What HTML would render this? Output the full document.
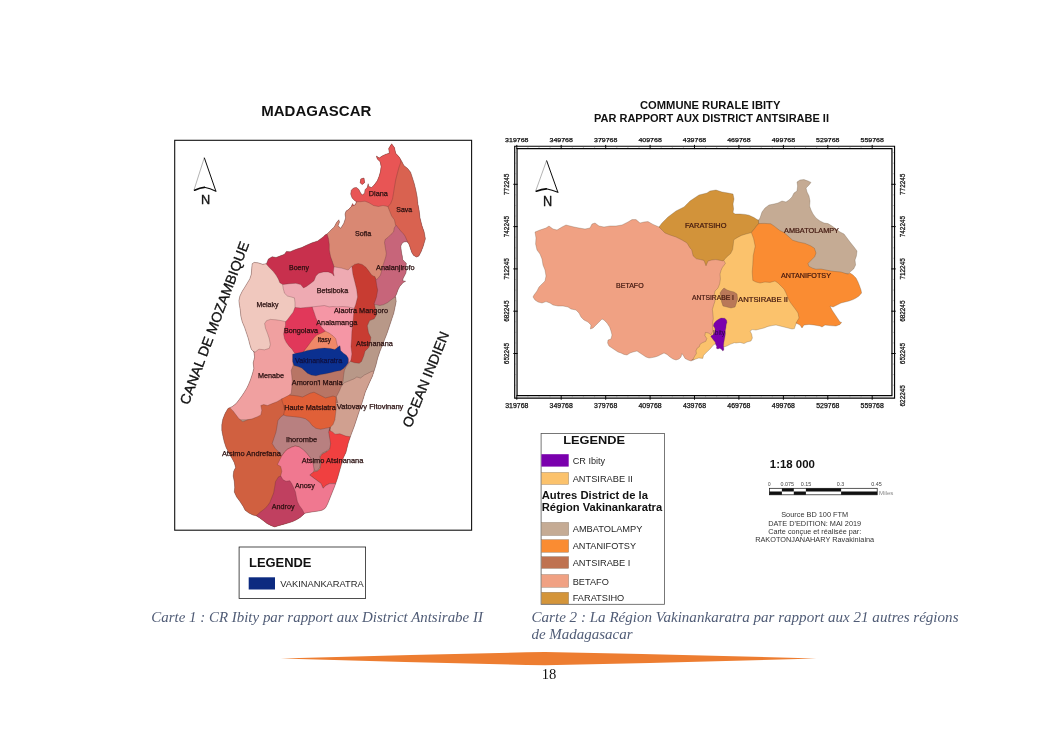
<!DOCTYPE html>
<html lang="fr"><head><meta charset="utf-8"><title>Cartes</title>
<style>
html,body{margin:0;padding:0;background:#fff;}
body{width:1053px;height:745px;overflow:hidden;position:relative;font-family:"Liberation Sans",sans-serif;}
svg{position:absolute;left:0;top:0;display:block}
svg text{font-family:"Liberation Sans",sans-serif;}
.ser{font-family:"Liberation Serif",serif !important;}
</style></head><body>
<svg width="1053" height="745" viewBox="0 0 1053 745">
<rect x="0" y="0" width="1053" height="745" fill="#ffffff"/>
<defs><clipPath id="coast"><polygon points="391.6,143.8 394.4,147.6 395.7,153.3 399.2,157.1 402.0,161.8 403.9,165.6 407.7,168.5 410.6,172.3 412.5,178.0 414.3,183.7 415.9,190.3 417.2,197.0 417.8,203.6 419.1,210.3 420.0,217.9 421.9,225.5 424.2,232.1 425.4,238.8 425.0,240.2 423.2,246.3 421.4,251.1 418.9,255.9 416.5,257.1 413.5,255.3 411.7,252.3 410.5,248.7 409.3,245.0 408.1,242.6 406.3,241.7 403.8,242.0 401.7,243.8 400.8,246.3 401.2,249.9 401.7,253.5 402.4,256.5 402.6,259.5 404.4,261.4 406.3,263.2 406.0,266.2 406.3,269.2 406.0,272.8 404.4,275.9 403.2,278.3 402.6,280.7 405.6,281.3 403.2,282.5 399.7,286.5 397.8,290.3 396.5,294.1 395.0,297.0 395.6,296.9 396.2,301.5 395.0,307.3 393.8,313.1 391.5,320.0 389.2,326.9 386.9,333.8 384.6,339.6 382.3,345.4 380.0,351.2 377.7,358.1 376.0,365.0 374.2,370.8 372.5,376.0 369.5,382.5 365.3,392.1 361.6,404.2 358.0,415.0 354.4,425.9 350.8,435.6 348.3,442.8 345.9,452.5 343.3,457.9 341.4,464.6 339.5,471.2 337.6,477.9 335.7,483.6 335.0,485.5 333.5,489.3 331.6,494.0 329.7,498.8 327.8,503.5 326.2,506.7 324.9,508.6 322.1,510.2 318.3,511.1 313.5,511.7 308.8,512.4 305.0,513.2 303.1,514.9 300.2,517.4 296.4,519.7 292.6,521.6 287.9,523.1 283.1,524.4 278.4,525.7 274.6,526.9 270.8,525.4 267.0,523.5 263.2,520.6 259.4,517.8 256.5,515.9 252.7,514.9 248.9,513.0 245.1,510.2 243.2,506.4 240.0,501.6 236.6,496.9 234.3,492.1 234.7,487.4 234.3,481.7 233.2,476.0 233.7,471.2 235.6,467.4 234.3,462.7 231.8,457.9 229.0,453.2 226.1,447.5 224.2,441.8 222.9,436.1 221.8,430.4 221.8,424.7 222.9,419.0 225.2,413.3 228.0,408.5 232.3,406.5 236.1,403.6 239.0,399.8 241.8,396.0 244.3,392.2 246.6,388.4 248.5,384.6 250.4,379.9 252.3,374.2 253.8,368.5 253.2,362.8 254.6,357.1 253.8,351.4 254.1,352.1 251.3,349.2 249.8,344.5 248.4,338.8 246.5,333.1 244.6,327.4 242.2,321.7 240.8,316.0 240.3,310.3 239.5,305.5 238.9,300.8 239.9,296.0 242.2,291.3 244.6,287.5 247.5,282.7 249.8,278.9 251.3,274.2 251.7,268.5 252.2,263.7 254.1,262.4 257.9,262.8 262.7,264.3 266.5,263.7 268.4,259.0 272.2,256.7 276.0,257.5 279.8,256.1 284.5,254.2 286.4,251.4 290.2,251.8 293.1,250.4 296.9,249.1 301.6,247.6 306.4,245.3 312.1,242.8 317.8,240.9 323.2,236.9 325.1,235.0 327.0,234.0 329.8,231.2 331.7,229.3 334.2,227.0 336.5,222.6 338.8,219.8 339.5,222.1 338.0,225.8 340.7,228.3 343.7,223.6 345.6,217.9 345.0,214.1 346.0,211.2 348.8,209.3 351.3,206.5 352.6,203.6 353.6,205.5 355.5,204.6 356.4,201.7 354.5,200.4 352.1,197.9 350.7,194.1 351.3,190.3 353.6,187.9 356.4,187.5 358.9,189.4 360.2,192.2 362.1,195.1 364.6,193.2 365.0,189.8 367.2,187.5 368.2,183.7 368.8,186.5 371.6,187.5 374.5,184.6 377.3,180.8 379.2,176.1 380.5,171.3 381.1,166.6 380.2,161.8 377.3,159.0 376.4,156.1 379.2,158.0 382.1,156.1 385.9,154.2 389.3,153.3 388.7,148.5"/><polygon points="360.8,178.9 364.0,178.0 364.6,182.7 362.1,184.6 360.2,182.7"/></clipPath></defs>
<g clip-path="url(#coast)">
<rect x="190" y="140" width="260" height="390" fill="#B89888"/>
<polygon points="330.0,290.0 430.0,290.0 430.0,400.0 330.0,400.0" fill="#B89888" stroke="rgba(70,40,40,0.55)" stroke-width="0.45" stroke-linejoin="round"/>
<polygon points="344.4,382.7 349.2,380.8 353.9,378.9 356.8,377.0 360.6,378.0 364.3,375.1 368.1,373.2 371.9,371.3 390.9,371.3 390.9,454.0 326.4,454.0 326.4,397.0 341.6,385.6" fill="#D0A090" stroke="rgba(70,40,40,0.55)" stroke-width="0.45" stroke-linejoin="round"/>
<polygon points="370.3,304.6 373.1,305.0 376.0,304.6 379.8,305.5 383.6,304.6 387.4,302.7 391.2,299.8 395.0,297.0 423.5,297.0 423.5,202.0 357.0,202.0 357.0,305.5" fill="#C7657A" stroke="rgba(70,40,40,0.55)" stroke-width="0.45" stroke-linejoin="round"/>
<polygon points="396.0,225.1 398.4,228.1 400.8,231.1 403.2,233.6 405.0,236.0 406.3,239.0 407.5,241.7 405.5,245.0 406.0,252.0 410.0,258.0 414.0,262.0 440.0,262.0 440.9,140.0 374.5,140.0 374.5,225.5" fill="#D96250" stroke="rgba(70,40,40,0.55)" stroke-width="0.45" stroke-linejoin="round"/>
<polygon points="400.7,162.4 398.8,167.9 396.9,175.1 395.7,179.9 394.4,187.5 393.5,193.2 392.5,198.9 390.6,203.6 387.8,206.9 387.8,216.0 346.0,216.0 346.0,134.3 403.0,134.3" fill="#E85555" stroke="rgba(70,40,40,0.55)" stroke-width="0.45" stroke-linejoin="round"/>
<polygon points="356.4,201.7 360.2,201.7 365.0,201.2 368.8,202.7 373.5,205.5 378.3,206.5 383.0,205.5 387.8,206.5 389.7,211.2 391.6,216.0 394.4,219.8 395.4,224.5 396.0,225.1 394.2,228.1 393.6,231.8 391.1,234.2 388.1,237.2 385.1,239.6 384.5,242.6 385.1,246.3 385.7,249.9 386.3,253.5 385.7,257.1 384.5,260.8 383.3,264.4 382.1,268.0 381.5,271.6 380.3,275.3 378.5,277.7 376.6,279.5 374.1,277.0 374.1,289.4 317.5,284.3 317.5,216.0 353.6,205.5" fill="#D98873" stroke="rgba(70,40,40,0.55)" stroke-width="0.45" stroke-linejoin="round"/>
<polygon points="333.9,266.8 341.5,268.1 348.1,270.0 351.6,266.2 363.3,266.6 363.3,319.8 276.0,319.8 276.0,259.0 331.1,259.0" fill="#EEAAB2" stroke="rgba(70,40,40,0.55)" stroke-width="0.45" stroke-linejoin="round"/>
<polygon points="327.0,234.0 328.5,238.8 329.3,244.5 329.3,250.0 330.6,256.6 332.5,262.1 334.0,266.7 333.3,272.1 334.1,276.1 332.0,273.4 328.2,271.9 323.5,271.9 318.7,273.2 315.9,276.1 314.0,280.8 310.2,283.7 306.4,286.5 303.5,287.9 300.7,284.6 295.9,283.3 289.3,283.7 282.6,284.6 272.2,284.6 262.7,268.5 262.7,251.4 262.7,221.0" fill="#C8304D" stroke="rgba(70,40,40,0.55)" stroke-width="0.45" stroke-linejoin="round"/>
<polygon points="266.5,264.3 269.3,267.5 273.1,271.3 276.0,275.1 278.3,278.9 279.8,282.7 282.6,284.6 283.2,288.4 284.5,293.2 287.4,296.0 291.2,297.0 294.4,297.9 295.0,302.7 295.0,307.4 295.0,323.6 289.3,354.0 238.0,354.0 228.5,297.0 247.5,259.0 266.5,259.0" fill="#F0C8BE" stroke="rgba(70,40,40,0.55)" stroke-width="0.45" stroke-linejoin="round"/>
<polygon points="285.5,321.7 281.7,320.7 276.0,319.8 270.3,319.4 266.5,320.7 264.6,323.6 265.5,328.3 267.4,333.1 269.3,338.8 270.3,344.5 269.3,348.3 264.6,349.8 258.9,349.2 255.1,352.1 238.0,352.1 210.5,359.0 210.5,419.8 299.8,419.8 299.8,351.4 298.8,346.4 298.8,321.7" fill="#F0A0A0" stroke="rgba(70,40,40,0.55)" stroke-width="0.45" stroke-linejoin="round"/>
<polygon points="312.1,306.9 315.9,306.5 319.7,306.1 324.4,305.5 329.2,306.9 333.0,306.5 336.8,306.9 342.5,306.5 348.1,306.9 354.2,308.4 357.6,308.4 357.6,354.0 350.0,361.6 344.3,369.2 312.1,369.2" fill="#F596A5" stroke="rgba(70,40,40,0.55)" stroke-width="0.45" stroke-linejoin="round"/>
<polygon points="351.7,266.9 354.5,264.4 358.3,263.5 362.1,264.4 365.9,267.3 368.8,271.1 371.6,274.9 374.1,276.4 375.0,276.5 376.0,280.8 376.9,286.5 377.7,290.0 376.5,296.9 374.2,303.8 375.4,308.5 376.5,314.8 374.2,318.8 369.6,320.6 367.3,325.8 368.5,332.7 370.8,337.3 370.2,343.1 368.5,347.7 365.0,351.2 363.8,355.8 361.5,361.5 359.2,363.3 354.6,362.7 350.6,361.5 351.0,359.7 351.9,354.0 351.0,346.4 351.6,338.8 351.9,331.2 352.9,323.6 353.5,316.0 354.2,308.4 355.7,304.6 357.6,297.0 356.7,289.4 354.8,281.8 352.9,274.2 351.9,266.6" fill="#C83C32" stroke="rgba(70,40,40,0.55)" stroke-width="0.45" stroke-linejoin="round"/>
<polygon points="295.0,307.4 300.7,308.0 306.4,307.4 312.1,306.9 314.0,312.2 315.9,317.9 318.7,323.6 322.5,328.3 325.4,331.2 321.6,338.8 314.0,354.0 303.5,357.8 294.0,352.4 292.1,349.2 289.3,346.4 286.4,342.6 284.5,338.8 283.6,334.0 284.5,329.3 285.5,325.5 285.5,321.7 287.4,319.8 290.2,316.0 293.1,312.2" fill="#E1385A" stroke="rgba(70,40,40,0.55)" stroke-width="0.45" stroke-linejoin="round"/>
<polygon points="325.4,331.2 329.2,333.1 333.0,335.9 335.8,338.8 336.8,343.5 337.7,346.4 337.7,354.0 303.5,357.8 303.5,351.7 305.4,349.2 308.3,345.4 311.1,341.6 314.0,337.8 316.8,335.0 321.6,333.1" fill="#F08868" stroke="rgba(70,40,40,0.55)" stroke-width="0.45" stroke-linejoin="round"/>
<polygon points="293.1,365.6 291.2,370.4 291.8,376.1 292.2,381.8 291.8,387.5 291.2,393.2 289.3,395.1 289.3,402.7 337.8,402.7 336.2,397.0 337.8,394.1 339.7,390.3 341.6,385.6 343.1,380.8 343.5,376.1 344.4,370.4 346.3,365.6 348.2,362.8 348.2,359.0 293.1,359.0" fill="#B87565" stroke="rgba(70,40,40,0.55)" stroke-width="0.45" stroke-linejoin="round"/>
<polygon points="292.6,354.2 296.0,353.3 301.7,352.3 307.4,350.4 313.1,349.5 318.8,348.5 324.5,348.0 330.2,348.5 334.9,349.5 338.7,346.6 340.0,345.7 340.6,350.4 343.5,353.3 346.3,355.2 348.2,358.0 348.2,362.8 346.3,365.6 343.5,368.5 340.6,370.4 335.9,371.3 330.2,372.7 325.4,373.8 320.7,374.6 315.9,375.7 311.2,375.1 307.4,373.2 304.5,370.4 301.7,368.1 297.9,366.6 294.1,365.6 292.7,361.8 292.6,358.0" fill="#0B3090" stroke="rgba(70,40,40,0.55)" stroke-width="0.45" stroke-linejoin="round"/>
<polygon points="229.5,407.4 233.3,411.2 236.1,415.0 239.0,418.8 242.8,421.7 247.5,419.8 252.3,418.8 257.0,416.9 260.8,415.0 261.8,410.3 260.8,405.5 263.7,404.6 267.5,405.5 272.2,403.6 277.0,401.7 281.7,398.9 299.8,398.9 299.3,400.0 299.3,536.8 200.5,536.8 200.5,405.7" fill="#D06040" stroke="rgba(70,40,40,0.55)" stroke-width="0.45" stroke-linejoin="round"/>
<polygon points="289.3,395.1 294.1,395.5 297.9,396.0 302.6,397.0 306.4,395.1 310.2,393.2 314.0,392.2 317.8,394.1 321.6,396.0 325.4,397.9 329.2,397.0 333.0,396.0 336.2,397.0 335.9,402.7 336.2,408.4 335.5,414.1 334.9,419.8 333.0,424.5 330.2,427.4 330.2,435.0 283.6,435.0 283.6,415.0 284.6,410.3 283.6,405.5 282.3,401.7 281.7,398.9 285.5,397.0" fill="#E06038" stroke="rgba(70,40,40,0.55)" stroke-width="0.45" stroke-linejoin="round"/>
<polygon points="283.6,415.0 286.5,416.0 291.2,416.4 296.0,416.9 300.7,417.5 305.5,418.8 309.3,421.7 312.1,425.5 315.9,428.3 320.7,429.3 325.4,428.3 330.2,427.4 329.2,431.2 330.2,436.9 331.1,442.6 330.2,448.3 326.4,451.1 322.6,453.0 319.7,455.9 320.7,461.6 319.7,467.3 316.9,471.1 314.0,470.1 313.1,463.5 310.2,457.8 306.4,453.0 302.6,449.2 298.8,446.7 295.0,446.0 291.2,447.3 287.4,449.2 284.6,452.1 281.7,455.9 278.9,452.1 275.1,448.3 272.2,443.5 274.1,437.8 276.0,432.1 277.0,426.4 277.9,420.7 280.8,416.9" fill="#B88080" stroke="rgba(70,40,40,0.55)" stroke-width="0.45" stroke-linejoin="round"/>
<polygon points="330.2,427.4 329.1,430.2 332.5,431.9 335.0,434.2 339.9,433.8 345.8,436.1 350.6,436.8 361.9,436.8 361.9,483.6 335.7,483.6 333.5,483.6 329.7,483.6 325.9,485.5 323.0,488.3 321.1,483.6 317.3,480.7 313.5,477.9 309.7,475.0 313.5,471.8 317.3,471.2 320.2,468.4 321.1,462.7 320.2,457.0 322.1,454.1 325.9,452.2 329.7,449.4 330.6,443.7 329.7,438.0 328.7,432.3" fill="#F04040" stroke="rgba(70,40,40,0.55)" stroke-width="0.45" stroke-linejoin="round"/>
<polygon points="281.8,455.8 284.6,452.0 287.5,449.2 291.3,447.3 295.1,446.0 298.9,446.7 302.7,449.2 306.5,453.0 310.3,457.7 313.1,463.4 314.1,470.1 313.5,471.8 309.7,475.0 313.5,477.9 317.3,480.7 321.1,483.6 323.0,488.3 325.9,485.5 329.7,483.6 333.5,483.6 335.7,483.6 361.9,483.6 361.9,533.0 289.8,533.0 280.7,476.0 281.8,471.2 280.7,466.5 277.4,464.6 279.3,460.8 281.2,457.0" fill="#F07890" stroke="rgba(70,40,40,0.55)" stroke-width="0.45" stroke-linejoin="round"/>
<polygon points="256.5,515.5 260.3,512.1 264.1,509.2 267.0,506.4 269.8,502.6 271.7,497.8 273.6,493.1 274.6,487.4 275.5,481.7 278.4,476.9 280.7,476.0 283.1,479.8 286.0,481.3 289.8,480.7 291.7,483.6 293.6,487.4 295.5,492.1 296.4,496.9 297.4,501.6 299.3,505.4 302.1,509.2 304.4,513.6 304.4,536.8 256.5,536.8" fill="#C04060" stroke="rgba(70,40,40,0.55)" stroke-width="0.45" stroke-linejoin="round"/>
</g>
<polygon points="391.6,143.8 394.4,147.6 395.7,153.3 399.2,157.1 402.0,161.8 403.9,165.6 407.7,168.5 410.6,172.3 412.5,178.0 414.3,183.7 415.9,190.3 417.2,197.0 417.8,203.6 419.1,210.3 420.0,217.9 421.9,225.5 424.2,232.1 425.4,238.8 425.0,240.2 423.2,246.3 421.4,251.1 418.9,255.9 416.5,257.1 413.5,255.3 411.7,252.3 410.5,248.7 409.3,245.0 408.1,242.6 406.3,241.7 403.8,242.0 401.7,243.8 400.8,246.3 401.2,249.9 401.7,253.5 402.4,256.5 402.6,259.5 404.4,261.4 406.3,263.2 406.0,266.2 406.3,269.2 406.0,272.8 404.4,275.9 403.2,278.3 402.6,280.7 405.6,281.3 403.2,282.5 399.7,286.5 397.8,290.3 396.5,294.1 395.0,297.0 395.6,296.9 396.2,301.5 395.0,307.3 393.8,313.1 391.5,320.0 389.2,326.9 386.9,333.8 384.6,339.6 382.3,345.4 380.0,351.2 377.7,358.1 376.0,365.0 374.2,370.8 372.5,376.0 369.5,382.5 365.3,392.1 361.6,404.2 358.0,415.0 354.4,425.9 350.8,435.6 348.3,442.8 345.9,452.5 343.3,457.9 341.4,464.6 339.5,471.2 337.6,477.9 335.7,483.6 335.0,485.5 333.5,489.3 331.6,494.0 329.7,498.8 327.8,503.5 326.2,506.7 324.9,508.6 322.1,510.2 318.3,511.1 313.5,511.7 308.8,512.4 305.0,513.2 303.1,514.9 300.2,517.4 296.4,519.7 292.6,521.6 287.9,523.1 283.1,524.4 278.4,525.7 274.6,526.9 270.8,525.4 267.0,523.5 263.2,520.6 259.4,517.8 256.5,515.9 252.7,514.9 248.9,513.0 245.1,510.2 243.2,506.4 240.0,501.6 236.6,496.9 234.3,492.1 234.7,487.4 234.3,481.7 233.2,476.0 233.7,471.2 235.6,467.4 234.3,462.7 231.8,457.9 229.0,453.2 226.1,447.5 224.2,441.8 222.9,436.1 221.8,430.4 221.8,424.7 222.9,419.0 225.2,413.3 228.0,408.5 232.3,406.5 236.1,403.6 239.0,399.8 241.8,396.0 244.3,392.2 246.6,388.4 248.5,384.6 250.4,379.9 252.3,374.2 253.8,368.5 253.2,362.8 254.6,357.1 253.8,351.4 254.1,352.1 251.3,349.2 249.8,344.5 248.4,338.8 246.5,333.1 244.6,327.4 242.2,321.7 240.8,316.0 240.3,310.3 239.5,305.5 238.9,300.8 239.9,296.0 242.2,291.3 244.6,287.5 247.5,282.7 249.8,278.9 251.3,274.2 251.7,268.5 252.2,263.7 254.1,262.4 257.9,262.8 262.7,264.3 266.5,263.7 268.4,259.0 272.2,256.7 276.0,257.5 279.8,256.1 284.5,254.2 286.4,251.4 290.2,251.8 293.1,250.4 296.9,249.1 301.6,247.6 306.4,245.3 312.1,242.8 317.8,240.9 323.2,236.9 325.1,235.0 327.0,234.0 329.8,231.2 331.7,229.3 334.2,227.0 336.5,222.6 338.8,219.8 339.5,222.1 338.0,225.8 340.7,228.3 343.7,223.6 345.6,217.9 345.0,214.1 346.0,211.2 348.8,209.3 351.3,206.5 352.6,203.6 353.6,205.5 355.5,204.6 356.4,201.7 354.5,200.4 352.1,197.9 350.7,194.1 351.3,190.3 353.6,187.9 356.4,187.5 358.9,189.4 360.2,192.2 362.1,195.1 364.6,193.2 365.0,189.8 367.2,187.5 368.2,183.7 368.8,186.5 371.6,187.5 374.5,184.6 377.3,180.8 379.2,176.1 380.5,171.3 381.1,166.6 380.2,161.8 377.3,159.0 376.4,156.1 379.2,158.0 382.1,156.1 385.9,154.2 389.3,153.3 388.7,148.5" fill="none" stroke="rgba(90,50,50,0.75)" stroke-width="0.5" stroke-linejoin="round"/>
<polygon points="360.8,178.9 364.0,178.0 364.6,182.7 362.1,184.6 360.2,182.7" fill="#E85555" stroke="rgba(90,50,50,0.75)" stroke-width="0.5"/>
<polygon points="535.0,232.0 540.0,230.0 546.0,228.0 549.0,226.0 553.0,229.0 557.0,230.0 562.0,227.0 566.0,225.0 570.0,226.0 574.0,227.0 579.0,228.0 585.0,229.0 590.0,228.0 592.0,224.0 595.0,223.0 599.0,226.0 604.0,227.0 610.0,226.0 616.0,226.0 622.0,225.0 628.0,222.0 632.0,219.6 636.0,219.6 640.0,223.0 644.0,222.0 648.0,221.6 653.0,224.4 659.0,227.0 710.0,227.0 730.0,250.0 730.0,310.0 708.0,346.0 693.6,360.0 693.0,360.0 691.0,361.0 688.0,360.0 685.0,358.4 683.6,356.0 682.0,353.6 681.0,357.0 679.0,359.0 676.0,360.0 673.0,359.0 670.0,357.0 667.0,354.4 664.0,353.0 661.0,354.4 658.0,356.0 655.0,357.0 652.0,357.6 649.0,358.0 646.0,357.0 643.0,355.0 640.0,353.0 637.0,351.0 633.0,352.0 630.0,353.0 627.0,355.0 624.0,354.4 621.0,353.0 618.0,352.0 615.0,350.0 612.0,348.0 609.0,346.0 607.6,343.0 608.0,340.0 611.0,339.0 612.0,335.0 611.0,331.0 609.6,327.0 607.0,323.0 604.0,320.0 602.0,319.0 599.0,322.0 596.0,325.0 593.0,328.0 590.4,329.0 591.0,325.0 588.0,322.0 584.0,320.0 581.0,317.0 579.0,313.0 576.0,310.0 571.0,309.0 568.0,307.0 563.0,306.0 558.0,306.0 553.0,305.0 550.0,303.0 546.0,301.6 542.0,303.0 538.0,302.0 535.0,300.0 533.0,297.0 534.0,295.0 537.0,291.0 539.0,287.0 542.0,284.0 545.0,281.0 546.0,276.0 545.0,270.0 543.0,265.0 542.0,259.0 540.0,254.0 537.0,250.0 535.6,244.0 536.0,238.0" fill="#F0A183" stroke="rgba(90,70,50,0.6)" stroke-width="0.45" stroke-linejoin="round"/>
<polygon points="723.8,260.4 725.4,263.4 722.2,267.8 721.0,270.6 720.0,274.0 720.4,279.0 719.6,284.0 718.0,288.0 715.0,291.0 714.0,296.0 715.0,301.0 713.8,304.7 712.4,309.4 712.9,314.1 713.3,318.8 712.4,323.5 712.9,331.0 711.0,334.7 708.2,332.9 705.4,332.4 704.9,335.7 706.8,338.5 705.8,341.3 702.5,342.7 700.2,344.1 699.2,346.9 697.4,347.9 696.0,350.7 696.4,353.5 694.6,356.3 693.1,359.2 691.7,360.1 695.0,359.3 698.8,358.0 702.8,358.4 703.5,355.4 705.8,353.1 708.2,350.7 711.0,347.9 713.3,345.1 715.7,343.7 720.0,345.5 724.1,346.9 726.9,346.0 730.7,344.1 734.5,342.7 736.0,343.0 740.0,342.4 744.0,343.6 747.0,342.0 751.0,341.0 752.4,338.0 751.6,334.0 750.0,331.0 752.4,329.6 756.0,330.0 760.0,329.0 764.0,328.0 768.0,326.4 772.0,325.6 776.0,325.0 780.0,326.0 784.0,327.0 788.0,328.0 792.0,329.0 794.4,328.6 795.6,325.0 796.4,323.0 800.0,322.4 800.0,310.0 812.0,310.0 812.0,260.0 774.0,220.0 756.0,220.0 730.0,230.0 723.8,256.0" fill="#FBC26C" stroke="rgba(90,70,50,0.6)" stroke-width="0.45" stroke-linejoin="round"/>
<polygon points="760.0,218.0 762.0,212.0 765.0,208.0 769.0,205.0 774.0,204.0 778.0,203.0 782.0,201.0 786.0,202.0 789.0,200.0 792.0,197.0 794.0,193.0 797.0,191.0 797.6,186.0 797.0,182.0 800.0,180.0 804.0,179.6 808.0,181.0 811.0,182.4 809.0,185.0 806.0,188.0 807.0,192.0 809.0,196.0 810.0,201.0 809.6,206.0 811.0,210.0 813.0,214.0 816.0,218.0 820.0,221.0 824.0,223.0 828.0,223.6 832.0,226.0 836.0,229.0 840.0,232.0 844.0,234.0 847.0,238.0 850.0,242.0 854.0,247.0 857.0,251.0 856.4,256.0 855.0,260.0 855.6,265.0 853.6,269.0 850.0,272.0 848.0,274.0 810.0,274.0 786.0,256.0 766.0,242.0 759.0,230.0 758.4,220.4" fill="#C5AB94" stroke="rgba(90,70,50,0.6)" stroke-width="0.45" stroke-linejoin="round"/>
<polygon points="659.0,227.0 662.0,223.0 665.0,220.0 668.0,217.0 672.0,214.0 676.0,211.0 680.0,209.0 684.0,207.0 687.0,204.0 690.0,201.0 693.0,199.0 696.0,197.0 699.0,195.0 703.0,194.0 707.0,193.0 710.0,191.0 716.0,190.0 722.0,192.0 728.0,193.0 733.0,194.0 734.0,199.0 733.0,204.0 733.6,209.0 733.0,212.4 735.0,214.0 740.0,214.0 745.0,214.4 749.0,215.2 754.0,217.6 758.4,220.4 758.6,223.4 755.0,228.0 751.4,232.6 746.0,234.0 741.4,235.4 737.6,237.4 733.8,239.8 733.2,245.0 732.6,249.6 730.6,253.6 727.8,256.0 724.6,259.2 723.0,261.0 720.6,260.4 715.8,259.6 711.8,260.0 708.0,261.0 706.0,265.8 704.0,260.4 700.4,259.6 696.4,258.8 693.2,256.0 691.6,249.6 690.0,248.0 687.0,243.0 682.0,240.0 676.0,237.0 670.0,235.0 665.0,233.0 662.0,230.0" fill="#D2933A" stroke="rgba(90,70,50,0.6)" stroke-width="0.45" stroke-linejoin="round"/>
<polygon points="751.4,232.6 755.0,228.0 758.6,223.6 764.2,223.4 770.8,223.8 774.6,226.4 779.4,230.2 784.0,232.6 788.8,236.8 792.6,240.2 798.4,242.0 805.0,243.4 810.6,245.8 814.4,248.2 816.0,253.0 814.6,256.8 810.8,260.6 808.0,263.4 808.8,266.2 812.6,268.2 816.0,269.2 821.0,269.0 826.0,270.0 831.0,271.0 836.0,271.6 841.0,272.0 846.0,273.6 848.0,274.0 850.0,273.0 853.0,275.0 856.0,278.0 858.0,282.0 859.6,286.0 861.0,290.0 861.6,293.0 859.0,296.0 856.0,298.0 853.0,299.6 849.0,301.0 845.0,302.0 841.0,303.0 837.0,305.0 833.0,307.0 830.0,306.0 832.0,310.0 834.0,313.0 836.0,316.0 838.0,319.0 840.0,322.0 841.6,322.4 840.0,324.4 836.0,326.0 830.0,325.6 825.0,325.0 822.0,327.0 820.0,326.0 814.0,325.0 809.0,324.4 804.0,325.0 802.0,328.0 800.0,325.0 796.0,323.0 799.0,318.0 798.0,313.0 796.0,310.0 793.0,306.0 790.0,302.0 788.0,298.0 786.0,293.0 784.0,289.0 781.0,286.0 778.0,283.0 775.0,281.0 770.0,282.4 765.0,282.0 760.0,283.0 756.0,282.0 752.8,280.4 752.2,272.0 752.8,264.4 753.2,255.8 755.2,246.2 753.6,238.6" fill="#FA8C32" stroke="rgba(90,70,50,0.6)" stroke-width="0.45" stroke-linejoin="round"/>
<polygon points="724.0,288.0 727.0,290.0 730.0,291.0 734.0,292.0 737.0,294.0 737.6,299.0 736.4,303.0 735.0,307.0 731.0,308.0 727.0,307.0 723.0,306.0 721.6,302.0 721.0,297.0 720.0,293.0 722.0,290.0" fill="#B97858" stroke="rgba(90,70,50,0.6)" stroke-width="0.45" stroke-linejoin="round"/>
<polygon points="721.0,318.0 724.7,318.3 726.5,319.9 727.0,322.3 726.2,324.8 725.9,327.9 725.3,330.4 725.4,333.5 725.0,336.5 724.4,339.6 723.8,342.7 723.5,345.8 723.8,348.3 723.8,350.1 722.8,351.0 721.6,349.5 719.8,348.3 717.9,348.9 716.4,348.3 716.7,346.4 715.7,344.6 715.1,342.1 713.6,340.2 712.3,338.4 710.8,336.5 711.4,335.6 713.3,334.7 714.5,332.8 715.1,330.4 714.8,327.9 713.3,326.0 713.9,323.6 716.0,321.1 718.5,319.3" fill="#7B00AD" stroke="rgba(90,70,50,0.6)" stroke-width="0.45" stroke-linejoin="round"/>
<text x="261.3" y="116.3" font-size="15.2" font-weight="bold" text-anchor="start" fill="#111" textLength="110" lengthAdjust="spacingAndGlyphs" >MADAGASCAR</text>
<rect x="174.7" y="140.3" width="296.9" height="389.9" fill="none" stroke="#111" stroke-width="1.1"/>
<path d="M194,190 L204.3,157.7" fill="none" stroke="#555" stroke-width="0.45"/><path d="M204.3,157.7 L215.9,191.2" fill="none" stroke="#0a0a0a" stroke-width="1"/><path d="M194.6,190.2 Q200.15,187.60000000000002 204.3,187.3" fill="none" stroke="#0a0a0a" stroke-width="1.7" stroke-linecap="round"/><path d="M204.3,187.3 Q210.10000000000002,188.5 215.9,191.2" fill="none" stroke="#0a0a0a" stroke-width="1.1" stroke-linecap="round"/><text x="200.9" y="203.7" font-size="13.2" font-weight="normal" text-anchor="start" fill="#111" textLength="9.2" lengthAdjust="spacingAndGlyphs" stroke="#111" stroke-width="0.35">N</text>
<rect x="239.1" y="547" width="126.5" height="51.6" fill="#fff" stroke="#222" stroke-width="0.8"/>
<text x="249" y="566.9" font-size="12.5" font-weight="bold" text-anchor="start" fill="#111" textLength="62.5" lengthAdjust="spacingAndGlyphs" >LEGENDE</text>
<rect x="248.7" y="577.3" width="26.3" height="12.2" fill="#0c2a80"/>
<text x="280.2" y="586.9" font-size="9.7" font-weight="normal" text-anchor="start" fill="#262626" textLength="83.5" lengthAdjust="spacingAndGlyphs" >VAKINANKARATRA</text>
<text x="151.3" y="621.5" font-size="14.6" font-weight="normal" text-anchor="start" fill="#505c76" textLength="331.6" lengthAdjust="spacingAndGlyphs" class="ser" font-style="italic">Carte 1 : CR Ibity par rapport aux District Antsirabe II</text>
<text x="640" y="108.7" font-size="10.3" font-weight="bold" text-anchor="start" fill="#111" textLength="140.4" lengthAdjust="spacingAndGlyphs" >COMMUNE RURALE IBITY</text>
<text x="594" y="121.6" font-size="10.3" font-weight="bold" text-anchor="start" fill="#111" textLength="235" lengthAdjust="spacingAndGlyphs" >PAR RAPPORT AUX DISTRICT ANTSIRABE II</text>
<path d="M514.7,146.25 H894.55 V398.15 H514.7 Z" fill="none" stroke="#050505" stroke-width="1.15"/>
<path d="M517.05,148.55 H891.95 V395.55 H517.05 Z" fill="none" stroke="#050505" stroke-width="1.2"/>
<path d="M516.8,144.9 v4.2 M516.8,395.2 v4.5" stroke="#050505" stroke-width="1"/>
<text x="516.8" y="141.9" font-size="6.1" font-weight="normal" text-anchor="middle" fill="#111" textLength="23.4" lengthAdjust="spacingAndGlyphs" stroke="#111" stroke-width="0.25">319768</text>
<text x="516.8" y="407.9" font-size="6.6" font-weight="normal" text-anchor="middle" fill="#111" textLength="23.2" lengthAdjust="spacingAndGlyphs" stroke="#111" stroke-width="0.25">319768</text>
<path d="M561.2,144.9 v4.2 M561.2,395.2 v4.5" stroke="#050505" stroke-width="1"/>
<text x="561.2" y="141.9" font-size="6.1" font-weight="normal" text-anchor="middle" fill="#111" textLength="23.4" lengthAdjust="spacingAndGlyphs" stroke="#111" stroke-width="0.25">349768</text>
<text x="561.2" y="407.9" font-size="6.6" font-weight="normal" text-anchor="middle" fill="#111" textLength="23.2" lengthAdjust="spacingAndGlyphs" stroke="#111" stroke-width="0.25">349768</text>
<path d="M605.7,144.9 v4.2 M605.7,395.2 v4.5" stroke="#050505" stroke-width="1"/>
<text x="605.7" y="141.9" font-size="6.1" font-weight="normal" text-anchor="middle" fill="#111" textLength="23.4" lengthAdjust="spacingAndGlyphs" stroke="#111" stroke-width="0.25">379768</text>
<text x="605.7" y="407.9" font-size="6.6" font-weight="normal" text-anchor="middle" fill="#111" textLength="23.2" lengthAdjust="spacingAndGlyphs" stroke="#111" stroke-width="0.25">379768</text>
<path d="M650.1,144.9 v4.2 M650.1,395.2 v4.5" stroke="#050505" stroke-width="1"/>
<text x="650.1" y="141.9" font-size="6.1" font-weight="normal" text-anchor="middle" fill="#111" textLength="23.4" lengthAdjust="spacingAndGlyphs" stroke="#111" stroke-width="0.25">409768</text>
<text x="650.1" y="407.9" font-size="6.6" font-weight="normal" text-anchor="middle" fill="#111" textLength="23.2" lengthAdjust="spacingAndGlyphs" stroke="#111" stroke-width="0.25">409768</text>
<path d="M694.5,144.9 v4.2 M694.5,395.2 v4.5" stroke="#050505" stroke-width="1"/>
<text x="694.5" y="141.9" font-size="6.1" font-weight="normal" text-anchor="middle" fill="#111" textLength="23.4" lengthAdjust="spacingAndGlyphs" stroke="#111" stroke-width="0.25">439768</text>
<text x="694.5" y="407.9" font-size="6.6" font-weight="normal" text-anchor="middle" fill="#111" textLength="23.2" lengthAdjust="spacingAndGlyphs" stroke="#111" stroke-width="0.25">439768</text>
<path d="M738.9,144.9 v4.2 M738.9,395.2 v4.5" stroke="#050505" stroke-width="1"/>
<text x="738.9" y="141.9" font-size="6.1" font-weight="normal" text-anchor="middle" fill="#111" textLength="23.4" lengthAdjust="spacingAndGlyphs" stroke="#111" stroke-width="0.25">469768</text>
<text x="738.9" y="407.9" font-size="6.6" font-weight="normal" text-anchor="middle" fill="#111" textLength="23.2" lengthAdjust="spacingAndGlyphs" stroke="#111" stroke-width="0.25">469768</text>
<path d="M783.4,144.9 v4.2 M783.4,395.2 v4.5" stroke="#050505" stroke-width="1"/>
<text x="783.4" y="141.9" font-size="6.1" font-weight="normal" text-anchor="middle" fill="#111" textLength="23.4" lengthAdjust="spacingAndGlyphs" stroke="#111" stroke-width="0.25">499768</text>
<text x="783.4" y="407.9" font-size="6.6" font-weight="normal" text-anchor="middle" fill="#111" textLength="23.2" lengthAdjust="spacingAndGlyphs" stroke="#111" stroke-width="0.25">499768</text>
<path d="M827.8,144.9 v4.2 M827.8,395.2 v4.5" stroke="#050505" stroke-width="1"/>
<text x="827.8" y="141.9" font-size="6.1" font-weight="normal" text-anchor="middle" fill="#111" textLength="23.4" lengthAdjust="spacingAndGlyphs" stroke="#111" stroke-width="0.25">529768</text>
<text x="827.8" y="407.9" font-size="6.6" font-weight="normal" text-anchor="middle" fill="#111" textLength="23.2" lengthAdjust="spacingAndGlyphs" stroke="#111" stroke-width="0.25">529768</text>
<path d="M872.2,144.9 v4.2 M872.2,395.2 v4.5" stroke="#050505" stroke-width="1"/>
<text x="872.2" y="141.9" font-size="6.1" font-weight="normal" text-anchor="middle" fill="#111" textLength="23.4" lengthAdjust="spacingAndGlyphs" stroke="#111" stroke-width="0.25">559768</text>
<text x="872.2" y="407.9" font-size="6.6" font-weight="normal" text-anchor="middle" fill="#111" textLength="23.2" lengthAdjust="spacingAndGlyphs" stroke="#111" stroke-width="0.25">559768</text>
<path d="M527.9,146.8 v1.2 M527.9,396.2 v1.4" stroke="#666" stroke-width="0.4"/>
<path d="M539.0,146.8 v1.2 M539.0,396.2 v1.4" stroke="#666" stroke-width="0.4"/>
<path d="M550.1,146.8 v1.2 M550.1,396.2 v1.4" stroke="#666" stroke-width="0.4"/>
<path d="M572.3,146.8 v1.2 M572.3,396.2 v1.4" stroke="#666" stroke-width="0.4"/>
<path d="M583.4,146.8 v1.2 M583.4,396.2 v1.4" stroke="#666" stroke-width="0.4"/>
<path d="M594.6,146.8 v1.2 M594.6,396.2 v1.4" stroke="#666" stroke-width="0.4"/>
<path d="M616.8,146.8 v1.2 M616.8,396.2 v1.4" stroke="#666" stroke-width="0.4"/>
<path d="M627.9,146.8 v1.2 M627.9,396.2 v1.4" stroke="#666" stroke-width="0.4"/>
<path d="M639.0,146.8 v1.2 M639.0,396.2 v1.4" stroke="#666" stroke-width="0.4"/>
<path d="M661.2,146.8 v1.2 M661.2,396.2 v1.4" stroke="#666" stroke-width="0.4"/>
<path d="M672.3,146.8 v1.2 M672.3,396.2 v1.4" stroke="#666" stroke-width="0.4"/>
<path d="M683.4,146.8 v1.2 M683.4,396.2 v1.4" stroke="#666" stroke-width="0.4"/>
<path d="M705.6,146.8 v1.2 M705.6,396.2 v1.4" stroke="#666" stroke-width="0.4"/>
<path d="M716.7,146.8 v1.2 M716.7,396.2 v1.4" stroke="#666" stroke-width="0.4"/>
<path d="M727.8,146.8 v1.2 M727.8,396.2 v1.4" stroke="#666" stroke-width="0.4"/>
<path d="M750.1,146.8 v1.2 M750.1,396.2 v1.4" stroke="#666" stroke-width="0.4"/>
<path d="M761.2,146.8 v1.2 M761.2,396.2 v1.4" stroke="#666" stroke-width="0.4"/>
<path d="M772.3,146.8 v1.2 M772.3,396.2 v1.4" stroke="#666" stroke-width="0.4"/>
<path d="M794.5,146.8 v1.2 M794.5,396.2 v1.4" stroke="#666" stroke-width="0.4"/>
<path d="M805.6,146.8 v1.2 M805.6,396.2 v1.4" stroke="#666" stroke-width="0.4"/>
<path d="M816.7,146.8 v1.2 M816.7,396.2 v1.4" stroke="#666" stroke-width="0.4"/>
<path d="M838.9,146.8 v1.2 M838.9,396.2 v1.4" stroke="#666" stroke-width="0.4"/>
<path d="M850.0,146.8 v1.2 M850.0,396.2 v1.4" stroke="#666" stroke-width="0.4"/>
<path d="M861.1,146.8 v1.2 M861.1,396.2 v1.4" stroke="#666" stroke-width="0.4"/>
<path d="M513.3,184.3 h4.3 M891.4,184.3 h4.3" stroke="#050505" stroke-width="1"/>
<g transform="translate(508.9,184.3) rotate(-90)"><text x="0" y="0" font-size="7.1" font-weight="normal" text-anchor="middle" fill="#111" textLength="21.3" lengthAdjust="spacingAndGlyphs" stroke="#111" stroke-width="0.25">772245</text></g>
<g transform="translate(904.5,184.3) rotate(-90)"><text x="0" y="0" font-size="7.1" font-weight="normal" text-anchor="middle" fill="#111" textLength="21.3" lengthAdjust="spacingAndGlyphs" stroke="#111" stroke-width="0.25">772245</text></g>
<path d="M513.3,226.6 h4.3 M891.4,226.6 h4.3" stroke="#050505" stroke-width="1"/>
<g transform="translate(508.9,226.6) rotate(-90)"><text x="0" y="0" font-size="7.1" font-weight="normal" text-anchor="middle" fill="#111" textLength="21.3" lengthAdjust="spacingAndGlyphs" stroke="#111" stroke-width="0.25">742245</text></g>
<g transform="translate(904.5,226.6) rotate(-90)"><text x="0" y="0" font-size="7.1" font-weight="normal" text-anchor="middle" fill="#111" textLength="21.3" lengthAdjust="spacingAndGlyphs" stroke="#111" stroke-width="0.25">742245</text></g>
<path d="M513.3,268.9 h4.3 M891.4,268.9 h4.3" stroke="#050505" stroke-width="1"/>
<g transform="translate(508.9,268.9) rotate(-90)"><text x="0" y="0" font-size="7.1" font-weight="normal" text-anchor="middle" fill="#111" textLength="21.3" lengthAdjust="spacingAndGlyphs" stroke="#111" stroke-width="0.25">712245</text></g>
<g transform="translate(904.5,268.9) rotate(-90)"><text x="0" y="0" font-size="7.1" font-weight="normal" text-anchor="middle" fill="#111" textLength="21.3" lengthAdjust="spacingAndGlyphs" stroke="#111" stroke-width="0.25">712245</text></g>
<path d="M513.3,311.2 h4.3 M891.4,311.2 h4.3" stroke="#050505" stroke-width="1"/>
<g transform="translate(508.9,311.2) rotate(-90)"><text x="0" y="0" font-size="7.1" font-weight="normal" text-anchor="middle" fill="#111" textLength="21.3" lengthAdjust="spacingAndGlyphs" stroke="#111" stroke-width="0.25">682245</text></g>
<g transform="translate(904.5,311.2) rotate(-90)"><text x="0" y="0" font-size="7.1" font-weight="normal" text-anchor="middle" fill="#111" textLength="21.3" lengthAdjust="spacingAndGlyphs" stroke="#111" stroke-width="0.25">682245</text></g>
<path d="M513.3,353.5 h4.3 M891.4,353.5 h4.3" stroke="#050505" stroke-width="1"/>
<g transform="translate(508.9,353.5) rotate(-90)"><text x="0" y="0" font-size="7.1" font-weight="normal" text-anchor="middle" fill="#111" textLength="21.3" lengthAdjust="spacingAndGlyphs" stroke="#111" stroke-width="0.25">652245</text></g>
<g transform="translate(904.5,353.5) rotate(-90)"><text x="0" y="0" font-size="7.1" font-weight="normal" text-anchor="middle" fill="#111" textLength="21.3" lengthAdjust="spacingAndGlyphs" stroke="#111" stroke-width="0.25">652245</text></g>
<g transform="translate(904.5,395.8) rotate(-90)"><text x="0" y="0" font-size="7.1" font-weight="normal" text-anchor="middle" fill="#111" textLength="21.3" lengthAdjust="spacingAndGlyphs" stroke="#111" stroke-width="0.25">622245</text></g>
<path d="M515.3,152.6 h1.2 M892.6,152.6 h1.3" stroke="#666" stroke-width="0.4"/>
<path d="M515.3,163.2 h1.2 M892.6,163.2 h1.3" stroke="#666" stroke-width="0.4"/>
<path d="M515.3,173.7 h1.2 M892.6,173.7 h1.3" stroke="#666" stroke-width="0.4"/>
<path d="M515.3,194.9 h1.2 M892.6,194.9 h1.3" stroke="#666" stroke-width="0.4"/>
<path d="M515.3,205.5 h1.2 M892.6,205.5 h1.3" stroke="#666" stroke-width="0.4"/>
<path d="M515.3,216.0 h1.2 M892.6,216.0 h1.3" stroke="#666" stroke-width="0.4"/>
<path d="M515.3,237.2 h1.2 M892.6,237.2 h1.3" stroke="#666" stroke-width="0.4"/>
<path d="M515.3,247.8 h1.2 M892.6,247.8 h1.3" stroke="#666" stroke-width="0.4"/>
<path d="M515.3,258.3 h1.2 M892.6,258.3 h1.3" stroke="#666" stroke-width="0.4"/>
<path d="M515.3,279.5 h1.2 M892.6,279.5 h1.3" stroke="#666" stroke-width="0.4"/>
<path d="M515.3,290.1 h1.2 M892.6,290.1 h1.3" stroke="#666" stroke-width="0.4"/>
<path d="M515.3,300.6 h1.2 M892.6,300.6 h1.3" stroke="#666" stroke-width="0.4"/>
<path d="M515.3,321.8 h1.2 M892.6,321.8 h1.3" stroke="#666" stroke-width="0.4"/>
<path d="M515.3,332.4 h1.2 M892.6,332.4 h1.3" stroke="#666" stroke-width="0.4"/>
<path d="M515.3,342.9 h1.2 M892.6,342.9 h1.3" stroke="#666" stroke-width="0.4"/>
<path d="M515.3,364.1 h1.2 M892.6,364.1 h1.3" stroke="#666" stroke-width="0.4"/>
<path d="M515.3,374.6 h1.2 M892.6,374.6 h1.3" stroke="#666" stroke-width="0.4"/>
<path d="M515.3,385.2 h1.2 M892.6,385.2 h1.3" stroke="#666" stroke-width="0.4"/>
<path d="M535.7,191 L546.6,160.5" fill="none" stroke="#555" stroke-width="0.45"/><path d="M546.6,160.5 L557.9,192.3" fill="none" stroke="#0a0a0a" stroke-width="1"/><path d="M536.3000000000001,191.2 Q541.95,189.10000000000002 546.2,188.8" fill="none" stroke="#0a0a0a" stroke-width="1.7" stroke-linecap="round"/><path d="M546.2,188.8 Q552.05,190.0 557.9,192.3" fill="none" stroke="#0a0a0a" stroke-width="1.1" stroke-linecap="round"/><text x="543.1" y="205.8" font-size="14.6" font-weight="normal" text-anchor="start" fill="#111" textLength="9.2" lengthAdjust="spacingAndGlyphs" stroke="#111" stroke-width="0.35">N</text>
<rect x="541.1" y="433.5" width="123.5" height="170.8" fill="#fff" stroke="#555" stroke-width="0.8"/>
<text x="563.2" y="443.5" font-size="10.4" font-weight="bold" text-anchor="start" fill="#111" textLength="62" lengthAdjust="spacingAndGlyphs" >LEGENDE</text>
<rect x="541.4" y="454.2" width="27.3" height="12.4" fill="#7a00ad"/>
<text x="572.7" y="463.7" font-size="8.8" font-weight="normal" text-anchor="start" fill="#262626" textLength="32.5" lengthAdjust="spacingAndGlyphs" >CR Ibity</text>
<rect x="541.4" y="472.4" width="27.3" height="12.1" fill="#fbc26c" stroke="#8a7a6a" stroke-width="0.4"/>
<text x="572.7" y="482" font-size="9.6" font-weight="normal" text-anchor="start" fill="#262626" textLength="60.1" lengthAdjust="spacingAndGlyphs" >ANTSIRABE II</text>
<text x="541.7" y="498.8" font-size="10.5" font-weight="bold" text-anchor="start" fill="#111" textLength="106.3" lengthAdjust="spacingAndGlyphs" >Autres District de la</text>
<text x="541.7" y="510.9" font-size="10.5" font-weight="bold" text-anchor="start" fill="#111" textLength="120.5" lengthAdjust="spacingAndGlyphs" >Région Vakinankaratra</text>
<rect x="541.4" y="522.4" width="27.3" height="13.1" fill="#c5ab94" stroke="#8a7a6a" stroke-width="0.4"/>
<text x="572.7" y="531.8" font-size="9.6" font-weight="normal" text-anchor="start" fill="#262626" textLength="69.8" lengthAdjust="spacingAndGlyphs" >AMBATOLAMPY</text>
<rect x="541.4" y="539.6" width="27.3" height="12.7" fill="#fa8c32" stroke="#8a7a6a" stroke-width="0.4"/>
<text x="572.7" y="549.4" font-size="9.6" font-weight="normal" text-anchor="start" fill="#262626" textLength="63.4" lengthAdjust="spacingAndGlyphs" >ANTANIFOTSY</text>
<rect x="541.4" y="556.6" width="27.3" height="11.8" fill="#bf7250" stroke="#8a7a6a" stroke-width="0.4"/>
<text x="572.7" y="566" font-size="9.6" font-weight="normal" text-anchor="start" fill="#262626" textLength="57.7" lengthAdjust="spacingAndGlyphs" >ANTSIRABE I</text>
<rect x="541.4" y="574.5" width="27.3" height="12.8" fill="#f0a183" stroke="#8a7a6a" stroke-width="0.4"/>
<text x="572.7" y="584.5" font-size="9.6" font-weight="normal" text-anchor="start" fill="#262626" textLength="36.1" lengthAdjust="spacingAndGlyphs" >BETAFO</text>
<rect x="541.4" y="592.2" width="27.3" height="11.8" fill="#d4953a" stroke="#8a7a6a" stroke-width="0.4"/>
<text x="572.7" y="600.7" font-size="9.6" font-weight="normal" text-anchor="start" fill="#262626" textLength="51.6" lengthAdjust="spacingAndGlyphs" >FARATSIHO</text>
<text x="769.8" y="467.5" font-size="10" font-weight="bold" text-anchor="start" fill="#111" textLength="45.1" lengthAdjust="spacingAndGlyphs" >1:18 000</text>
<rect x="769.4" y="488.3" width="107.8" height="6.5" fill="#fff" stroke="#111" stroke-width="0.7"/>
<rect x="769.4" y="491.5" width="12.5" height="3.3" fill="#111"/>
<rect x="781.9" y="488.3" width="11.9" height="3.2" fill="#111"/>
<rect x="793.8" y="491.5" width="12.1" height="3.3" fill="#111"/>
<rect x="805.9" y="488.3" width="35.2" height="3.2" fill="#111"/>
<rect x="841.1" y="491.5" width="36.1" height="3.3" fill="#111"/>
<text x="769.4" y="485.8" font-size="4.8" font-weight="normal" text-anchor="middle" fill="#444" textLength="2.6" lengthAdjust="spacingAndGlyphs" >0</text>
<text x="787.3" y="485.8" font-size="4.8" font-weight="normal" text-anchor="middle" fill="#444" textLength="13.5" lengthAdjust="spacingAndGlyphs" >0.075</text>
<text x="805.9" y="485.8" font-size="4.8" font-weight="normal" text-anchor="middle" fill="#444" textLength="10.5" lengthAdjust="spacingAndGlyphs" >0.15</text>
<text x="840.4" y="485.8" font-size="4.8" font-weight="normal" text-anchor="middle" fill="#444" textLength="7.5" lengthAdjust="spacingAndGlyphs" >0.3</text>
<text x="876.6" y="485.8" font-size="4.8" font-weight="normal" text-anchor="middle" fill="#444" textLength="10.5" lengthAdjust="spacingAndGlyphs" >0.45</text>
<text x="879" y="494.6" font-size="4.8" font-weight="normal" text-anchor="start" fill="#888" textLength="14.4" lengthAdjust="spacingAndGlyphs" >Miles</text>
<text x="814.7" y="517.1" font-size="6.5" font-weight="normal" text-anchor="middle" fill="#333" textLength="67" lengthAdjust="spacingAndGlyphs" >Source BD 100 FTM</text>
<text x="814.7" y="525.5" font-size="6.5" font-weight="normal" text-anchor="middle" fill="#333" textLength="93" lengthAdjust="spacingAndGlyphs" >DATE D'EDITION: MAI 2019</text>
<text x="814.7" y="533.9" font-size="6.5" font-weight="normal" text-anchor="middle" fill="#333" textLength="93" lengthAdjust="spacingAndGlyphs" >Carte conçue et réalisée par:</text>
<text x="814.7" y="541.7" font-size="6.5" font-weight="normal" text-anchor="middle" fill="#333" textLength="119" lengthAdjust="spacingAndGlyphs" >RAKOTONJANAHARY Ravakiniaina</text>
<text x="531.5" y="621.5" font-size="14.6" font-weight="normal" text-anchor="start" fill="#505c76" textLength="427" lengthAdjust="spacingAndGlyphs" class="ser" font-style="italic">Carte 2 : La Région Vakinankaratra par rapport aux 21 autres régions</text>
<text x="531.5" y="638.5" font-size="14.6" font-weight="normal" text-anchor="start" fill="#505c76" textLength="101" lengthAdjust="spacingAndGlyphs" class="ser" font-style="italic">de Madagasacar</text>
<path d="M280.9,658.4 Q415,654.5 545,652 Q680,654.5 816.3,658.4 Q680,662.4 545,665.3 Q415,662.4 280.9,658.4 Z" fill="#ed7d31"/>
<text x="549" y="679.4" font-size="14.6" font-weight="normal" text-anchor="middle" fill="#111" class="ser" >18</text>
<text x="368.8" y="196" font-size="7" font-weight="normal" text-anchor="start" fill="#2a1010" textLength="19.0" lengthAdjust="spacingAndGlyphs" stroke="#2a1010" stroke-width="0.25">Diana</text>
<text x="396.3" y="211.8" font-size="7" font-weight="normal" text-anchor="start" fill="#2a1010" textLength="15.8" lengthAdjust="spacingAndGlyphs" stroke="#2a1010" stroke-width="0.25">Sava</text>
<text x="354.9" y="235.5" font-size="7" font-weight="normal" text-anchor="start" fill="#2a1010" textLength="16.3" lengthAdjust="spacingAndGlyphs" stroke="#2a1010" stroke-width="0.25">Sofia</text>
<text x="289" y="270.1" font-size="7" font-weight="normal" text-anchor="start" fill="#2a1010" textLength="19.9" lengthAdjust="spacingAndGlyphs" stroke="#2a1010" stroke-width="0.25">Boeny</text>
<text x="376" y="270.1" font-size="7" font-weight="normal" text-anchor="start" fill="#2a1010" textLength="38.7" lengthAdjust="spacingAndGlyphs" stroke="#2a1010" stroke-width="0.25">Analanjirofo</text>
<text x="316.8" y="292.6" font-size="7" font-weight="normal" text-anchor="start" fill="#2a1010" textLength="31.3" lengthAdjust="spacingAndGlyphs" stroke="#2a1010" stroke-width="0.25">Betsiboka</text>
<text x="256.4" y="307" font-size="7" font-weight="normal" text-anchor="start" fill="#2a1010" textLength="22.0" lengthAdjust="spacingAndGlyphs" stroke="#2a1010" stroke-width="0.25">Melaky</text>
<text x="333.9" y="312.6" font-size="7" font-weight="normal" text-anchor="start" fill="#2a1010" textLength="54.1" lengthAdjust="spacingAndGlyphs" stroke="#2a1010" stroke-width="0.25">Alaotra Mangoro</text>
<text x="316.2" y="324.9" font-size="7" font-weight="normal" text-anchor="start" fill="#2a1010" textLength="41.1" lengthAdjust="spacingAndGlyphs" stroke="#2a1010" stroke-width="0.25">Analamanga</text>
<text x="284" y="332.5" font-size="7" font-weight="normal" text-anchor="start" fill="#2a1010" textLength="34.1" lengthAdjust="spacingAndGlyphs" stroke="#2a1010" stroke-width="0.25">Bongolava</text>
<text x="317.4" y="341.6" font-size="7" font-weight="normal" text-anchor="start" fill="#2a1010" textLength="13.7" lengthAdjust="spacingAndGlyphs" stroke="#2a1010" stroke-width="0.25">Itasy</text>
<text x="356.1" y="346.4" font-size="7" font-weight="normal" text-anchor="start" fill="#2a1010" textLength="36.7" lengthAdjust="spacingAndGlyphs" stroke="#2a1010" stroke-width="0.25">Atsinanana</text>
<text x="295" y="363.1" font-size="7" font-weight="normal" text-anchor="start" fill="#101040" textLength="47.1" lengthAdjust="spacingAndGlyphs" stroke="#101040" stroke-width="0.25">Vakinankaratra</text>
<text x="257.9" y="377.9" font-size="7" font-weight="normal" text-anchor="start" fill="#2a1010" textLength="26.2" lengthAdjust="spacingAndGlyphs" stroke="#2a1010" stroke-width="0.25">Menabe</text>
<text x="291.8" y="385" font-size="7" font-weight="normal" text-anchor="start" fill="#2a1010" textLength="50.7" lengthAdjust="spacingAndGlyphs" stroke="#2a1010" stroke-width="0.25">Amoron'i Mania</text>
<text x="284.2" y="410.3" font-size="7" font-weight="normal" text-anchor="start" fill="#2a1010" textLength="51.7" lengthAdjust="spacingAndGlyphs" stroke="#2a1010" stroke-width="0.25">Haute Matsiatra</text>
<text x="336.8" y="408.8" font-size="7" font-weight="normal" text-anchor="start" fill="#2a1010" textLength="66.5" lengthAdjust="spacingAndGlyphs" stroke="#2a1010" stroke-width="0.25">Vatovavy Fitovinany</text>
<text x="285.9" y="441.6" font-size="7" font-weight="normal" text-anchor="start" fill="#2a1010" textLength="31.3" lengthAdjust="spacingAndGlyphs" stroke="#2a1010" stroke-width="0.25">Ihorombe</text>
<text x="221.9" y="456.2" font-size="7" font-weight="normal" text-anchor="start" fill="#2a1010" textLength="58.9" lengthAdjust="spacingAndGlyphs" stroke="#2a1010" stroke-width="0.25">Atsimo Andrefana</text>
<text x="301.7" y="463.1" font-size="7" font-weight="normal" text-anchor="start" fill="#2a1010" textLength="61.7" lengthAdjust="spacingAndGlyphs" stroke="#2a1010" stroke-width="0.25">Atsimo Atsinanana</text>
<text x="294.9" y="488.3" font-size="7" font-weight="normal" text-anchor="start" fill="#2a1010" textLength="19.9" lengthAdjust="spacingAndGlyphs" stroke="#2a1010" stroke-width="0.25">Anosy</text>
<text x="271.7" y="509.2" font-size="7" font-weight="normal" text-anchor="start" fill="#2a1010" textLength="22.8" lengthAdjust="spacingAndGlyphs" stroke="#2a1010" stroke-width="0.25">Androy</text>
<g transform="translate(188.6,405.4) rotate(-69.4)"><text x="0" y="0" font-size="14" font-weight="normal" text-anchor="start" fill="#111" textLength="172.6" lengthAdjust="spacingAndGlyphs" stroke="#111" stroke-width="0.3">CANAL DE MOZAMBIQUE</text></g>
<g transform="translate(410.9,428.6) rotate(-67.8)"><text x="0" y="0" font-size="14" font-weight="normal" text-anchor="start" fill="#111" textLength="102" lengthAdjust="spacingAndGlyphs" stroke="#111" stroke-width="0.3">OCEAN INDIEN</text></g>
<text x="616" y="288" font-size="7" font-weight="normal" text-anchor="start" fill="#40160e" textLength="27.6" lengthAdjust="spacingAndGlyphs" stroke="#40160e" stroke-width="0.2">BETAFO</text>
<text x="685" y="227.8" font-size="7" font-weight="normal" text-anchor="start" fill="#40160e" textLength="41.4" lengthAdjust="spacingAndGlyphs" stroke="#40160e" stroke-width="0.2">FARATSIHO</text>
<text x="784" y="233" font-size="7" font-weight="normal" text-anchor="start" fill="#40160e" textLength="55" lengthAdjust="spacingAndGlyphs" stroke="#40160e" stroke-width="0.2">AMBATOLAMPY</text>
<text x="781" y="278" font-size="7" font-weight="normal" text-anchor="start" fill="#40160e" textLength="50" lengthAdjust="spacingAndGlyphs" stroke="#40160e" stroke-width="0.2">ANTANIFOTSY</text>
<text x="692" y="300.4" font-size="7" font-weight="normal" text-anchor="start" fill="#40160e" textLength="42" lengthAdjust="spacingAndGlyphs" stroke="#40160e" stroke-width="0.2">ANTSIRABE I</text>
<text x="738" y="302" font-size="7" font-weight="normal" text-anchor="start" fill="#40160e" textLength="50" lengthAdjust="spacingAndGlyphs" stroke="#40160e" stroke-width="0.2">ANTSIRABE II</text>
<text x="713" y="335" font-size="6.5" font-weight="normal" text-anchor="start" fill="#2a0840" textLength="12" lengthAdjust="spacingAndGlyphs" >Ibity</text>
</svg>
</body></html>
